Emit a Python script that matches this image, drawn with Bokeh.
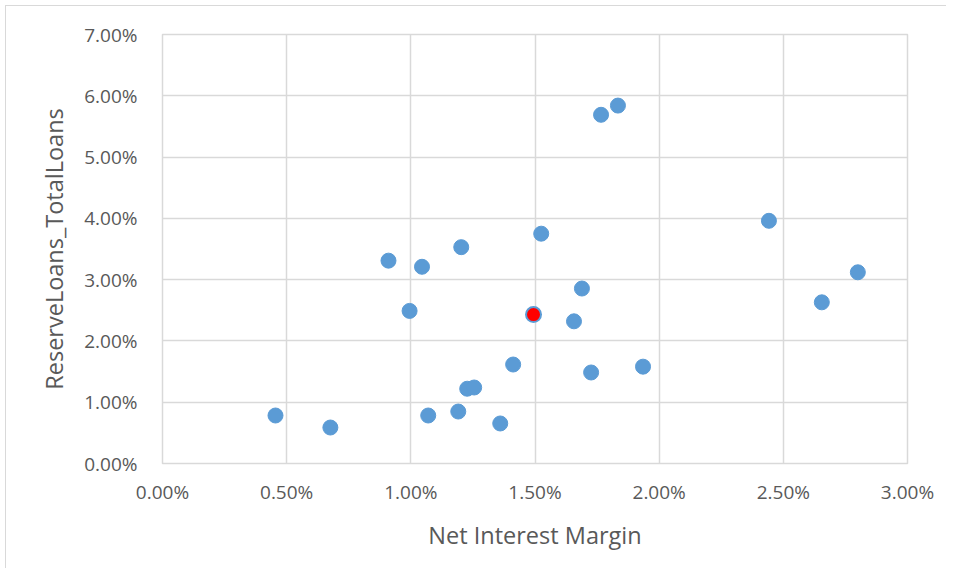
from bokeh.plotting import figure
from bokeh.models import FixedTicker, PrintfTickFormatter, Range1d, ColumnDataSource
from bokeh.embed import file_html
from bokeh.resources import INLINE

# Net Interest Margin (%) and ReserveLoans_TotalLoans (%)
nim = [0.455, 0.676, 0.910, 0.995, 1.045, 1.070, 1.203, 1.191, 1.227, 1.255, 1.360,
       1.412, 1.525, 1.657, 1.689, 1.726, 1.766, 1.834, 1.935, 2.442, 2.655, 2.800]
reserve = [0.783, 0.587, 3.31, 2.49, 3.21, 0.783, 3.53, 0.848, 1.22, 1.24, 0.653,
           1.615, 3.75, 2.32, 2.855, 1.485, 5.69, 5.84, 1.58, 3.96, 2.63, 3.12]
# highlighted point
hl_nim = [1.494]
hl_reserve = [2.43]

x_ticks = [0, 0.5, 1.0, 1.5, 2.0, 2.5, 3.0]
y_ticks = [0, 1, 2, 3, 4, 5, 6, 7]

FONT = "Open Sans"
GRID = "#d9d9d9"
TXT = "#595959"

p = figure(width=946, height=568, output_backend="svg", toolbar_location=None,
           x_range=Range1d(0, 3), y_range=Range1d(0, 7),
           min_border_left=162, min_border_right=39, min_border_top=34, min_border_bottom=105)
p.styles = {"box-shadow": "inset 5px 5px 0 0 white, inset 6px 6px 0 0 #d9d9d9"}

p.outline_line_color = GRID
p.outline_line_width = 1.5
p.background_fill_color = "white"
p.border_fill_color = None

for ax in (p.xaxis[0], p.yaxis[0]):
    ax.axis_line_color = None
    ax.major_tick_line_color = None
    ax.minor_tick_line_color = None
    ax.major_label_text_font = FONT
    ax.major_label_text_font_size = "19px"
    ax.major_label_text_color = TXT
    ax.axis_label_text_font = FONT
    ax.axis_label_text_font_size = "23.5px"
    ax.axis_label_text_font_style = "normal"
    ax.axis_label_text_color = TXT
    ax.major_tick_out = 0
    ax.major_tick_in = 0

p.xaxis.ticker = FixedTicker(ticks=x_ticks)
p.yaxis.ticker = FixedTicker(ticks=y_ticks)
p.xaxis.formatter = PrintfTickFormatter(format="%.2f%%")
p.yaxis.formatter = PrintfTickFormatter(format="%.2f%%")
p.xaxis.major_label_standoff = 15
p.yaxis.major_label_standoff = 25
p.xaxis.axis_label = "Net Interest Margin"
p.yaxis.axis_label = "ReserveLoans_TotalLoans"
p.xaxis.axis_label_standoff = 11
p.yaxis.axis_label_standoff = 11

p.xgrid.ticker = FixedTicker(ticks=x_ticks)
p.ygrid.ticker = FixedTicker(ticks=y_ticks)
p.xgrid.grid_line_color = GRID
p.ygrid.grid_line_color = GRID
p.xgrid.grid_line_width = 1.5
p.ygrid.grid_line_width = 1.5

src = ColumnDataSource(dict(x=nim, y=reserve))
p.scatter("x", "y", source=src, size=15, fill_color="#5b9bd5", line_color="#5b9bd5", line_width=1)
hl = ColumnDataSource(dict(x=hl_nim, y=hl_reserve))
p.scatter("x", "y", source=hl, size=15, fill_color="#ff0000", line_color="#5b9bd5", line_width=2)

open("out.html", "w").write(file_html(p, INLINE))
